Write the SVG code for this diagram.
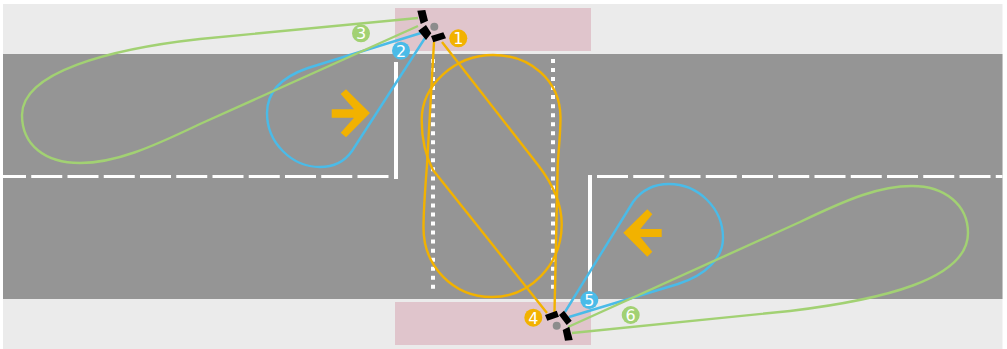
<svg xmlns="http://www.w3.org/2000/svg" width="1007" height="349" viewBox="0 0 1007 349">
<style>
.c{fill:none;stroke-width:2.4;stroke-linejoin:round}
.y{stroke:#f2b200}.b{stroke:#4abbe8}.g{stroke:#a2d173}
.d{fill:none;stroke:#fff;stroke-width:3;stroke-dasharray:31 5.25}
.v{fill:none;stroke:#fff;stroke-width:4}
.p{fill:none;stroke:#fff;stroke-width:4;stroke-dasharray:4 5.03}
.veh{fill:#000}
.n{font-family:"DejaVu Sans",sans-serif;font-size:16px;fill:#fff;text-anchor:middle}
.dot{fill:#8c8c8c}
.ar{fill:#f2b200}
</style>
<g id="ground">
<rect x="3" y="4" width="999.500" height="345" fill="#ebebeb"/>
<rect x="395" y="8" width="196" height="43" fill="#e0c5cc"/>
<rect x="395" y="302" width="196" height="43" fill="#e0c5cc"/>
<rect x="3" y="54" width="999.500" height="245" fill="#959595"/>
</g>
<g id="markings">
<path class="d" d="M3 176.500H389" stroke-dashoffset="8"/>
<path class="d" d="M597 176.500H1002.500"/>
<path class="v" d="M396 62V179M590 175V299"/>
<path class="p" d="M433 59V292M553 59V292"/>
</g>
<g id="connectors">
<path class="c y" d="M442 42L538 165C552 183 561.700 203 561.700 224C561.700 265 530 297 492 297C452 297 423.500 265 423.500 228C423.500 210 425 190 427 165L434 42"/>
<path class="c y" d="M554.500 312L557.700 165C558.500 150 560.500 135 560.500 117C560 80 530 55 493 55C455 55 421.700 85 421.700 120C421.700 140 425 155 433 170L547 313"/>
<path class="c b" d="M421 33L308 68C282 77 267 92 267 113C267 143 292 167 320 167C334 167 345 161 352 151L425 38"/>
<path class="c g" d="M418 18L200 39C110 49 22 72 22 115C22 145 45 163 80 163C115 163 150 148 200 124L418 26"/>
<path class="c b" d="M569 317L678 284C706 275 723 258 723 238C723 208 698 184 669 184C653 184 641 191 633 202L565 312"/>
<path class="c g" d="M572 333L790 311C880 300 968 280 968 233C968 205 945 186 912 186C880 186 850 198 800 222L568 327"/>
</g>
<g id="arrow-right"><path class="ar" d="M331.700 109.300H354L340.700 94L346 89.300L370 113L346 137.300L340.700 132.700L354 117.700H331.700Z"/></g>
<g id="arrow-left"><path class="ar" d="M661.700 229H640.300L652.300 214.300L647.300 209.300L623.300 232.700L647.300 256.700L652.300 251.700L640.300 237H661.700Z"/></g>
<g id="vehicle-top">
<circle class="dot" cx="434.300" cy="26.700" r="4"/>
<path class="veh" d="M417.300 10.700L425.300 10L428 20.700L420.700 24Z"/>
<path class="veh" d="M418.300 30.700L426 25L431.300 33.300L426 40Z"/>
<path class="veh" d="M431 36L443.300 32.300L446 38.300L433.300 42.300Z"/>
</g>
<g id="vehicle-bottom">
<circle class="dot" cx="556.700" cy="325.700" r="4"/>
<path class="veh" d="M545 315L556.700 310.700L559 316.700L547.300 320.700Z"/>
<path class="veh" d="M559 315L564 310.700L571.700 320.700L566.700 325Z"/>
<path class="veh" d="M562.700 330L569.300 326.700L572.700 340L565 340.700Z"/>
</g>
<g id="label-1"><circle cx="458.300" cy="38.300" r="9" fill="#f2b200"/><text class="n" x="458.300" y="44">1</text></g>
<g id="label-2"><circle cx="401" cy="50.700" r="9" fill="#4abbe8"/><text class="n" x="401" y="56.500">2</text></g>
<g id="label-3"><circle cx="361" cy="33.300" r="9" fill="#a2d173"/><text class="n" x="361" y="39">3</text></g>
<g id="label-4"><circle cx="533.300" cy="317.700" r="9" fill="#f2b200"/><text class="n" x="533.300" y="323.500">4</text></g>
<g id="label-5"><circle cx="589.300" cy="300" r="9" fill="#4abbe8"/><text class="n" x="589.300" y="305.800">5</text></g>
<g id="label-6"><circle cx="630.700" cy="315" r="9" fill="#a2d173"/><text class="n" x="630.700" y="320.800">6</text></g>
</svg>
